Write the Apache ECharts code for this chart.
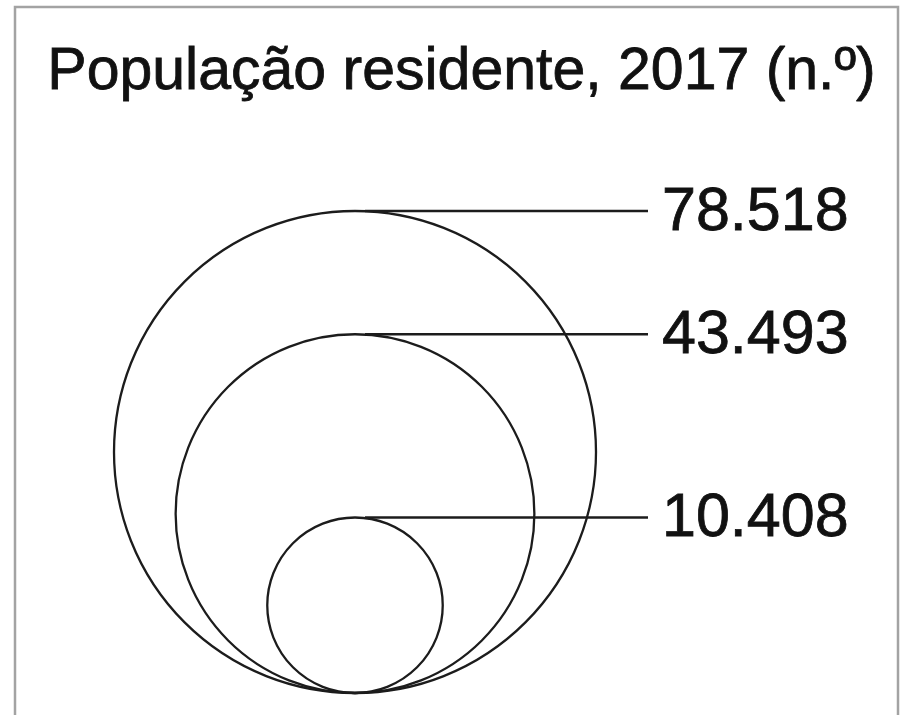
<!DOCTYPE html>
<html>
<head>
<meta charset="utf-8">
<script src="https://cdn.jsdelivr.net/npm/echarts@6/dist/echarts.min.js"></script>
<style>
  html, body { margin: 0; padding: 0; background: #fff; }
  #chart { width: 923px; height: 715px; }
</style>
</head>
<body>
<div id="chart"></div>
<script>
const TITLE = 'População residente, 2017 (n.º)';
const values = [78518, 43493, 10408];
const labels = ['78.518', '43.493', '10.408'];

const FONT = '"Liberation Sans", Arial, Helvetica, sans-serif';
const INK = '#1c1c1c';

// axes are in sqrt(population) units so circle area follows the value
const maxR = Math.sqrt(Math.max(...values));
const PX_PER_UNIT = 241 / maxR;      // biggest circle radius in pixels
const W = 923, H = 715;
const CX_PX = 355, BASE_PX = 693;   // circles share this centre x and touch this bottom line
const LABEL_X = (648 - CX_PX) / PX_PER_UNIT; // end of leader lines, in axis units

const chart = echarts.init(document.getElementById('chart'), null, { renderer: 'canvas' });

chart.setOption({
  backgroundColor: '#fff',
  animation: false,
  title: {
    text: TITLE,
    left: 'center',
    top: 38,
    textStyle: {
      fontSize: 59, fontWeight: 'normal', color: '#111', fontFamily: FONT,
      textBorderColor: '#111', textBorderWidth: 0.8
    }
  },
  grid: { left: 0, right: 0, top: 0, bottom: 0 },
  xAxis: {
    type: 'value', show: false,
    min: -CX_PX / PX_PER_UNIT,
    max: (W - CX_PX) / PX_PER_UNIT
  },
  yAxis: {
    type: 'value', show: false,
    min: -(H - BASE_PX) / PX_PER_UNIT,
    max: BASE_PX / PX_PER_UNIT
  },
  graphic: [{
    type: 'rect',
    shape: { x: 15, y: 7, width: 883, height: 760 },
    style: { fill: 'none', stroke: '#a3a3a3', lineWidth: 2.5 },
    silent: true
  }],
  series: [{
    type: 'custom',
    coordinateSystem: 'cartesian2d',
    data: values.map((v, i) => [0, v, i]),
    renderItem: (params, api) => {
      const r = Math.sqrt(api.value(1));
      const centre = api.coord([0, r]);
      const top = api.coord([0, 2 * r]);
      const rPx = api.size([r, r])[0];
      const lineEnd = api.coord([LABEL_X, 2 * r])[0];
      return {
        type: 'group',
        children: [
          {
            type: 'circle',
            shape: { cx: centre[0], cy: centre[1], r: rPx },
            style: { fill: 'none', stroke: INK, lineWidth: 2.3 }
          },
          {
            type: 'line',
            shape: { x1: top[0] + 10, y1: top[1], x2: lineEnd, y2: top[1] },
            style: { stroke: INK, lineWidth: 2.3 }
          },
          {
            type: 'text',
            style: {
              x: lineEnd + 14, y: top[1] + 2,
              text: labels[api.value(2)],
              fill: '#111', font: '61px ' + FONT,
              stroke: '#111', lineWidth: 0.8,
              textAlign: 'left', textVerticalAlign: 'middle'
            }
          }
        ]
      };
    }
  }]
});
</script>
</body>
</html>
